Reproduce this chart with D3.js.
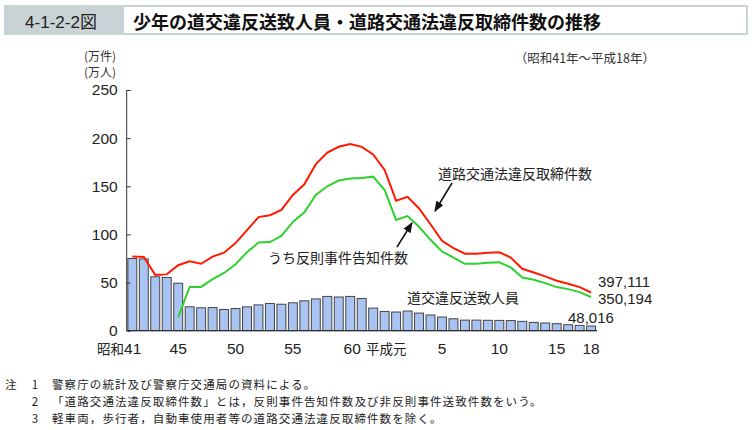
<!DOCTYPE html>
<html><head><meta charset="utf-8">
<script src="https://cdn.jsdelivr.net/npm/d3@7/dist/d3.min.js"></script>
<style>
html,body{margin:0;padding:0;background:#fff;}
svg{display:block;}
.jp{font-family:"Noto Sans CJK JP","Noto Sans",sans-serif;}
.num{font-family:"Liberation Sans",Arial,sans-serif;}
</style></head>
<body>
<svg id="c" width="752" height="430"></svg>
<script>
const years = ["昭和41","42","43","44","45","46","47","48","49","50","51","52","53","54","55","56","57","58","59","60","61","62","63",
  "平成元","2","3","4","5","6","7","8","9","10","11","12","13","14","15","16","17","18"];
// 道交違反送致人員 (万人)
const sochi = [75,74.5,56,55.3,49.3,24.8,23.8,24,22,23,24.8,26.8,28.2,27.5,29,31,33,35.6,35,35.6,33.5,23.5,20,19.4,20.4,18.3,16.3,14.2,12.4,11,11,10.8,10.7,10.5,9.7,8.6,8,7.3,6.2,5.5,4.8];
// 道路交通法違反取締件数 (万件)
const torishimari = [77,76.5,58,58.5,68,72,69.5,77,81,91,104.5,118,120,125.5,141,152,173,185,191,194,191,183,167,135,139,127,110.6,93.4,85.8,80,80,81,81.5,76,64.3,60.5,56.4,51.9,48.8,45.3,39.7];
// うち反則事件告知件数 (万件)
const hansoku = [null,null,null,null,14,45.5,45.5,53.5,60,69,81.5,91.5,92,98.5,113,123,141,150,156,158,158.5,160,146,115,119,108,94.4,82.3,76,69.5,69.5,70.5,71,65.7,55.3,52.9,49.4,45.3,43.2,40.1,35.0];
const yTicks = [0,50,100,150,200,250];
const xTickLabels = [["昭和41",0],["45",4],["50",9],["55",14],["60",19],["平成元",23],["5",27],["10",32],["15",37],["18",40]];
const endLabels = ["397,111","350,194","48,016"];

const svg = d3.select("#c");

// Header
svg.append("rect").attr("x",4).attr("y",5).attr("width",744).attr("height",30).attr("fill","#c9d2d5");
svg.append("rect").attr("x",124).attr("y",7).attr("width",622).attr("height",26).attr("fill","#fff");
svg.append("text").attr("x",61).attr("y",28).attr("text-anchor","middle")
  .attr("font-size",17).attr("fill","#222").text("4-1-2-2図").style("font-family","'Liberation Sans Narrow','Liberation Sans','Noto Sans CJK JP',sans-serif");
svg.append("text").attr("class","jp").attr("x",133).attr("y",28.5).attr("font-size",18).attr("font-weight","bold")
  .attr("fill","#111").text("少年の道交違反送致人員・道路交通法違反取締件数の推移");

// Scales
const x = d3.scaleBand().domain(d3.range(years.length)).range([126.7,596.7]).paddingInner(0.22).paddingOuter(0.1);
const y = d3.scaleLinear().domain([0,250]).range([330.7,90]);
const cx = i => x(i) + x.bandwidth()/2;

// units
svg.append("text").attr("class","jp").attr("x",100).attr("y",61).attr("text-anchor","middle").attr("font-size",12).attr("fill","#333").text("(万件)");
svg.append("text").attr("class","jp").attr("x",100).attr("y",77).attr("text-anchor","middle").attr("font-size",12).attr("fill","#333").text("(万人)");
svg.append("text").attr("class","jp").attr("x",655).attr("y",63).attr("text-anchor","end").attr("font-size",12.5).attr("fill","#333").text("（昭和41年～平成18年）");

// Bars
svg.append("g").selectAll("rect").data(sochi).join("rect")
  .attr("x",(d,i)=>x(i)).attr("width",x.bandwidth())
  .attr("y",d=>y(d)).attr("height",d=>y(0)-y(d))
  .attr("fill","#a9c4f2").attr("stroke","#444").attr("stroke-width",1);

// Axes
const yAxis = d3.axisLeft(y).tickValues(yTicks).tickSize(-4).tickPadding(9);
const gy = svg.append("g").attr("transform","translate(126.7,0)").call(yAxis);
gy.select(".domain").attr("stroke","#333").attr("d","M0,90V330.7");
gy.selectAll(".tick line").attr("stroke","#333");
gy.selectAll("text").attr("font-size",15.5).attr("fill","#222").style("font-family","'Liberation Sans',Arial,sans-serif");

svg.append("line").attr("x1",126.7).attr("x2",597).attr("y1",y(0)).attr("y2",y(0)).attr("stroke","#333").attr("stroke-width",1.2);

// X tick labels
const gx = svg.append("g");
xTickLabels.forEach(([lab,i])=>{
  const t = gx.append("text").attr("y",353.5).attr("font-size",15.5).attr("fill","#222");
  if(lab==="昭和41"){
    t.attr("x",cx(i)+9).attr("text-anchor","end");
    t.append("tspan").attr("class","jp").attr("font-size",13.5).text("昭和");
    t.append("tspan").attr("class","num").text("41");
  } else if(lab==="平成元"){
    t.attr("x",366).attr("text-anchor","start").attr("class","jp").attr("font-size",13.5).text(lab);
  } else {
    t.attr("x",cx(i)+(lab==="60"?2:0)).attr("text-anchor","middle").attr("class","num").text(lab);
  }
});

// Lines
const line = d3.line().defined(d=>d!=null).x((d,i)=>cx(i)).y(d=>y(d));
svg.append("path").datum(hansoku).attr("d",line).attr("fill","none").attr("stroke","#2fd12f").attr("stroke-width",2);
svg.append("path").datum(torishimari).attr("d",line).attr("fill","none").attr("stroke","#ff1a00").attr("stroke-width",2);

// Labels
const lab = (t,xx,yy)=>svg.append("text").attr("class","jp").attr("x",xx).attr("y",yy).attr("font-size",14).attr("fill","#222").text(t);
lab("道路交通法違反取締件数",438,179);
lab("うち反則事件告知件数",268,263);
lab("道交違反送致人員",407,303);

// arrows
const defs = svg.append("defs");
defs.append("marker").attr("id","ah").attr("viewBox","0 0 10 10").attr("refX",9).attr("refY",5)
  .attr("markerWidth",7).attr("markerHeight",7).attr("orient","auto")
  .append("path").attr("d","M0,1L10,5L0,9z").attr("fill","#111");
svg.append("line").attr("x1",452).attr("y1",183).attr("x2",435).attr("y2",211).attr("stroke","#111").attr("stroke-width",1.5).attr("marker-end","url(#ah)");
svg.append("line").attr("x1",397).attr("y1",247).attr("x2",412).attr("y2",223).attr("stroke","#111").attr("stroke-width",1.5).attr("marker-end","url(#ah)");

// end values
const nl = (t,xx,yy)=>svg.append("text").attr("class","num").attr("x",xx).attr("y",yy).attr("font-size",15).attr("fill","#222").text(t);
nl(endLabels[0],598,287);
nl(endLabels[1],598,303.5);
nl(endLabels[2],568,323);

// Notes
const notes = [["注","1","警察庁の統計及び警察庁交通局の資料による。"],["","2","「道路交通法違反取締件数」とは，反則事件告知件数及び非反則事件送致件数をいう。"],["","3","軽車両，歩行者，自動車使用者等の道路交通法違反取締件数を除く。"]];
notes.forEach((n,k)=>{
  const yy = 389 + k*17;
  svg.append("text").attr("class","jp").attr("x",5).attr("y",yy).attr("font-size",11.5).attr("fill","#222").text(n[0]);
  svg.append("text").attr("class","jp").attr("x",35).attr("y",yy).attr("text-anchor","middle").attr("font-size",11.5).attr("fill","#222").text(n[1]);
  svg.append("text").attr("class","jp").attr("x",52).attr("y",yy).attr("font-size",11.5).attr("letter-spacing",1.1).attr("fill","#222").text(n[2]);
});
</script>
</body></html>
